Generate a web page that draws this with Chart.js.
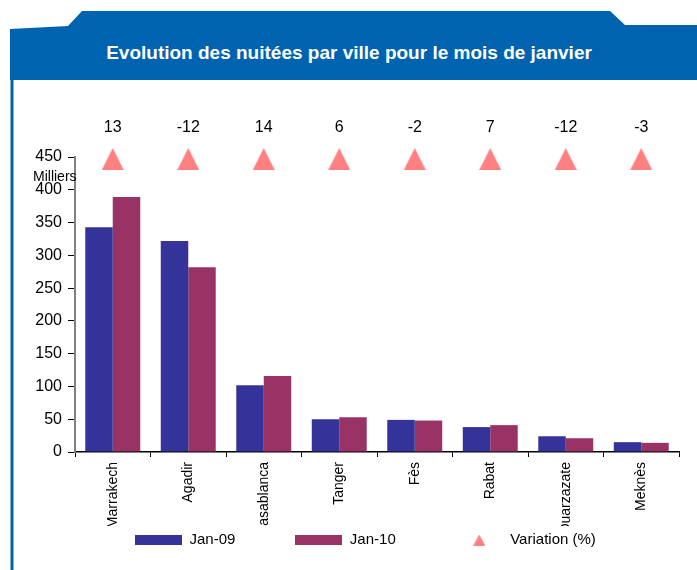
<!DOCTYPE html>
<html>
<head>
<meta charset="utf-8">
<script src="https://cdn.jsdelivr.net/npm/chart.js@4/dist/chart.umd.min.js"></script>
<style>
  body { margin: 0; background: #fff; }
  #wrap { position: relative; width: 697px; height: 570px; overflow: hidden; }
  #frame, #chart { position: absolute; left: 0; top: 0; }
  #title {
    position: absolute; left: 0; top: 42px; width: 698px; line-height: 22px;
    text-align: center; color: #fff; font: bold 19px "Liberation Sans", Arial, sans-serif;
  }
</style>
</head>
<body>
<div id="wrap">
  <svg id="frame" width="697" height="570">
    <polygon points="10,29 68,26 82,11 610,11 625,25 697,25 697,80 10,80" fill="#0063b0"/>
    <rect x="10.5" y="80" width="3" height="490" fill="#0063b0"/>
  </svg>
  <div id="title">Evolution des nuitées par ville pour le mois de janvier</div>
  <canvas id="chart" width="697" height="570"></canvas>
</div>
<script>
const cities = ['Marrakech', 'Agadir', 'Casablanca', 'Tanger', 'Fès', 'Rabat', 'Ouarzazate', 'Meknès'];
const jan09 = [343, 322, 102, 50, 49, 38, 24, 15];
const jan10 = [389, 282, 116, 53, 48, 41, 21, 14];
const variation = [13, -12, 14, 6, -2, 7, -12, -3];
const yMax = 450;
const yStep = 50;

const font = '"Liberation Sans", Arial, sans-serif';
const blue = '#333399';
const red = '#993366';
const pink = '#ff8080';

// small canvases used as markers (legend boxes and triangles)
function rectMark(w, h, color) {
    const c = document.createElement('canvas');
    c.width = w; c.height = h;
    const ctx = c.getContext('2d');
    ctx.fillStyle = color;
    ctx.fillRect(0, 0, w, h);
    return c;
}

function triMark(w, h, color, shift) {
    const c = document.createElement('canvas');
    c.width = w; c.height = h + shift;
    const ctx = c.getContext('2d');
    ctx.fillStyle = color;
    ctx.beginPath();
    ctx.moveTo(w / 2, shift);
    ctx.lineTo(w, h + shift);
    ctx.lineTo(0, h + shift);
    ctx.closePath();
    ctx.fill();
    return c;
}

const legendMarks = [rectMark(47, 10, blue), rectMark(47, 10, red), triMark(12, 11, pink, 0)];

const varLabels = {
    id: 'varLabels',
    afterDatasetsDraw(chart) {
        const ctx = chart.ctx;
        const meta = chart.getDatasetMeta(2);
        ctx.save();
        ctx.font = '16px ' + font;
        ctx.fillStyle = '#000';
        ctx.textAlign = 'center';
        ctx.textBaseline = 'middle';
        meta.data.forEach((p, i) => ctx.fillText(variation[i], p.x, p.y - 29));
        ctx.restore();
    }
};

const cityLabels = {
    id: 'cityLabels',
    afterDraw(chart) {
        const ctx = chart.ctx;
        const x = chart.scales.x;
        ctx.save();
        ctx.beginPath();
        ctx.rect(0, x.top, chart.width, 74);
        ctx.clip();
        ctx.font = '14px ' + font;
        ctx.fillStyle = '#000';
        ctx.textAlign = 'right';
        ctx.textBaseline = 'middle';
        cities.forEach((c, i) => {
            ctx.save();
            ctx.translate(x.getPixelForValue(i), x.top + 10);
            ctx.rotate(-Math.PI / 2);
            ctx.fillText(c, 0, 0);
            ctx.restore();
        });
        ctx.restore();

        ctx.save();
        ctx.font = '14px ' + font;
        ctx.fillStyle = '#000';
        ctx.textBaseline = 'middle';
        ctx.fillText('Milliers', 33, 177);
        ctx.restore();
    }
};

new Chart(document.getElementById('chart'), {
    type: 'bar',
    data: {
        labels: cities,
        datasets: [
            {
                label: 'Jan-09',
                data: jan09,
                backgroundColor: blue,
                barPercentage: 1,
                categoryPercentage: 0.728,
            },
            {
                label: 'Jan-10',
                data: jan10,
                backgroundColor: red,
                barPercentage: 1,
                categoryPercentage: 0.728,
            },
            {
                type: 'line',
                label: 'Variation (%)',
                data: cities.map(c => ({ x: c, y: 'Variation (%)' })),
                yAxisID: 'yVar',
                showLine: false,
                backgroundColor: pink,
                borderColor: pink,
                pointStyle: triMark(22, 22, pink, 4),
                clip: false,
            },
        ]
    },
    options: {
        responsive: false,
        animation: false,
        layout: { padding: { top: 157, left: 0, right: 18, bottom: 12.5 } },
        scales: {
            x: {
                afterFit: (s) => { s.height = 20.5; },
                ticks: { display: false },
                grid: { drawOnChartArea: false, tickLength: 5, tickColor: '#000', offset: true },
                border: { color: '#000', width: 1.5 },
            },
            y: {
                min: 0,
                max: yMax,
                afterFit: (s) => { s.width = 75; },
                ticks: { stepSize: yStep, color: '#000', padding: 6, font: { size: 16, family: font } },
                grid: { drawOnChartArea: false, tickLength: 7, tickColor: '#000' },
                border: { color: '#808080', width: 2 },
            },
            yVar: {
                type: 'category',
                labels: ['Variation (%)'],
                display: false,
                offset: false,
            },
        },
        plugins: {
            tooltip: { enabled: false },
            legend: {
                position: 'bottom',
                fullSize: false,
                align: 'start',
                labels: {
                    usePointStyle: true,
                    pointStyleWidth: 47,
                    boxHeight: 10,
                    padding: 60,
                    color: '#000',
                    font: { size: 15, family: font },
                    generateLabels(chart) {
                        const items = Chart.defaults.plugins.legend.labels.generateLabels(chart);
                        items.forEach((it, i) => { it.pointStyle = legendMarks[i]; it.lineWidth = 0; });
                        return items;
                    }
                }
            }
        }
    },
    plugins: [varLabels, cityLabels]
});
</script>
</body>
</html>
